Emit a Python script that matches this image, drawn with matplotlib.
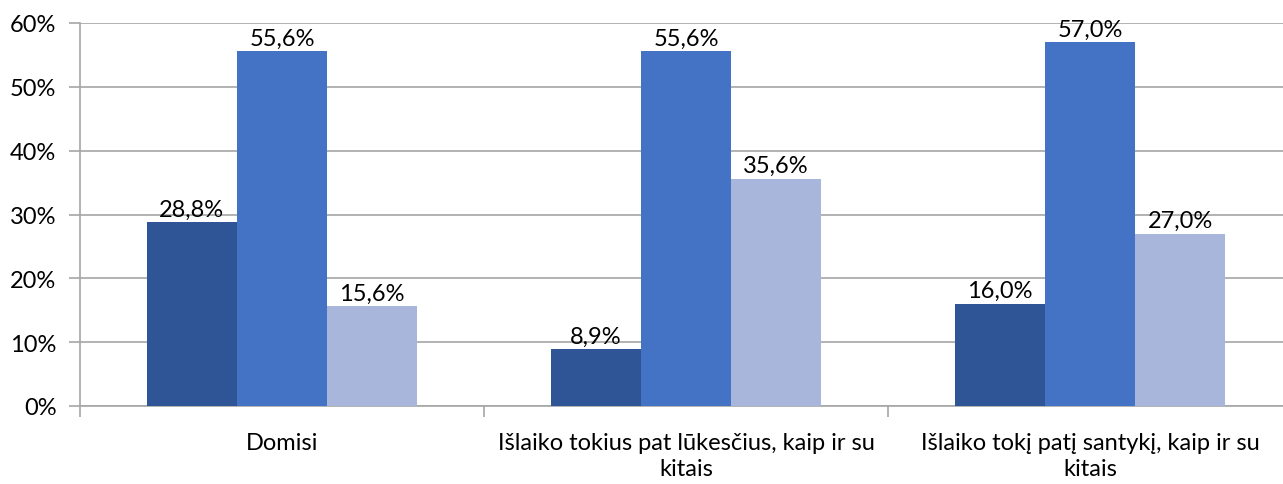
import matplotlib
matplotlib.use("Agg")
import matplotlib.pyplot as plt
import numpy as np
from matplotlib.ticker import FuncFormatter

categories = ["Domisi",
              "Išlaiko tokius pat lūkesčius, kaip ir su\nkitais",
              "Išlaiko tokį patį santykį, kaip ir su\nkitais"]
series_dark = [28.8, 8.9, 16.0]
series_mid = [55.6, 55.6, 57.0]
series_light = [15.6, 35.6, 27.0]
colors = ["#2F5597", "#4472C4", "#A9B6DB"]
yticks = [0, 10, 20, 30, 40, 50, 60]

plt.rcParams['font.family'] = ['Lato', 'DejaVu Sans']

W, H = 1283, 485
fig = plt.figure(figsize=(W / 100, H / 100), dpi=100)
left, right, top, bottom = 80, 1292, 24, 407
ax = fig.add_axes([left / W, 1 - bottom / H, (right - left) / W, (bottom - top) / H])

x = np.arange(len(categories))
bw = 0.223
for i, (vals, c) in enumerate(zip([series_dark, series_mid, series_light], colors)):
    bars = ax.bar(x + (i - 1) * bw, vals, width=bw, color=c, zorder=3)
    for b, v in zip(bars, vals):
        ax.text(b.get_x() + b.get_width() / 2, v + 0.4, f"{v:.1f}%".replace(".", ","),
                ha="center", va="bottom", fontsize=17, color="#000000", zorder=4)

ax.set_xlim(-0.5, len(categories) - 0.5)
ax.set_ylim(0, 60)
ax.set_yticks(yticks)
ax.yaxis.set_major_formatter(FuncFormatter(lambda v, p: f"{v:.0f}%"))
ax.grid(axis="y", color="#A6A6A6", linewidth=1.2, zorder=0)

ax.set_xticks(np.arange(-0.5, len(categories), 1.0))
ax.set_xticklabels([])
ax.set_xticks(x, minor=True)
ax.set_xticklabels(categories, minor=True, fontsize=17, linespacing=1.25)
ax.tick_params(axis="x", which="minor", length=0, pad=19)
ax.tick_params(axis="x", which="major", length=8, color="#A6A6A6", width=1.2)
ax.tick_params(axis="y", length=8, color="#A6A6A6", width=1.2, labelsize=17, pad=9)

for s in ["top", "right"]:
    ax.spines[s].set_visible(False)
for s in ["left", "bottom"]:
    ax.spines[s].set_color("#A6A6A6")
    ax.spines[s].set_linewidth(1.2)

fig.savefig("out.png", dpi=100)
